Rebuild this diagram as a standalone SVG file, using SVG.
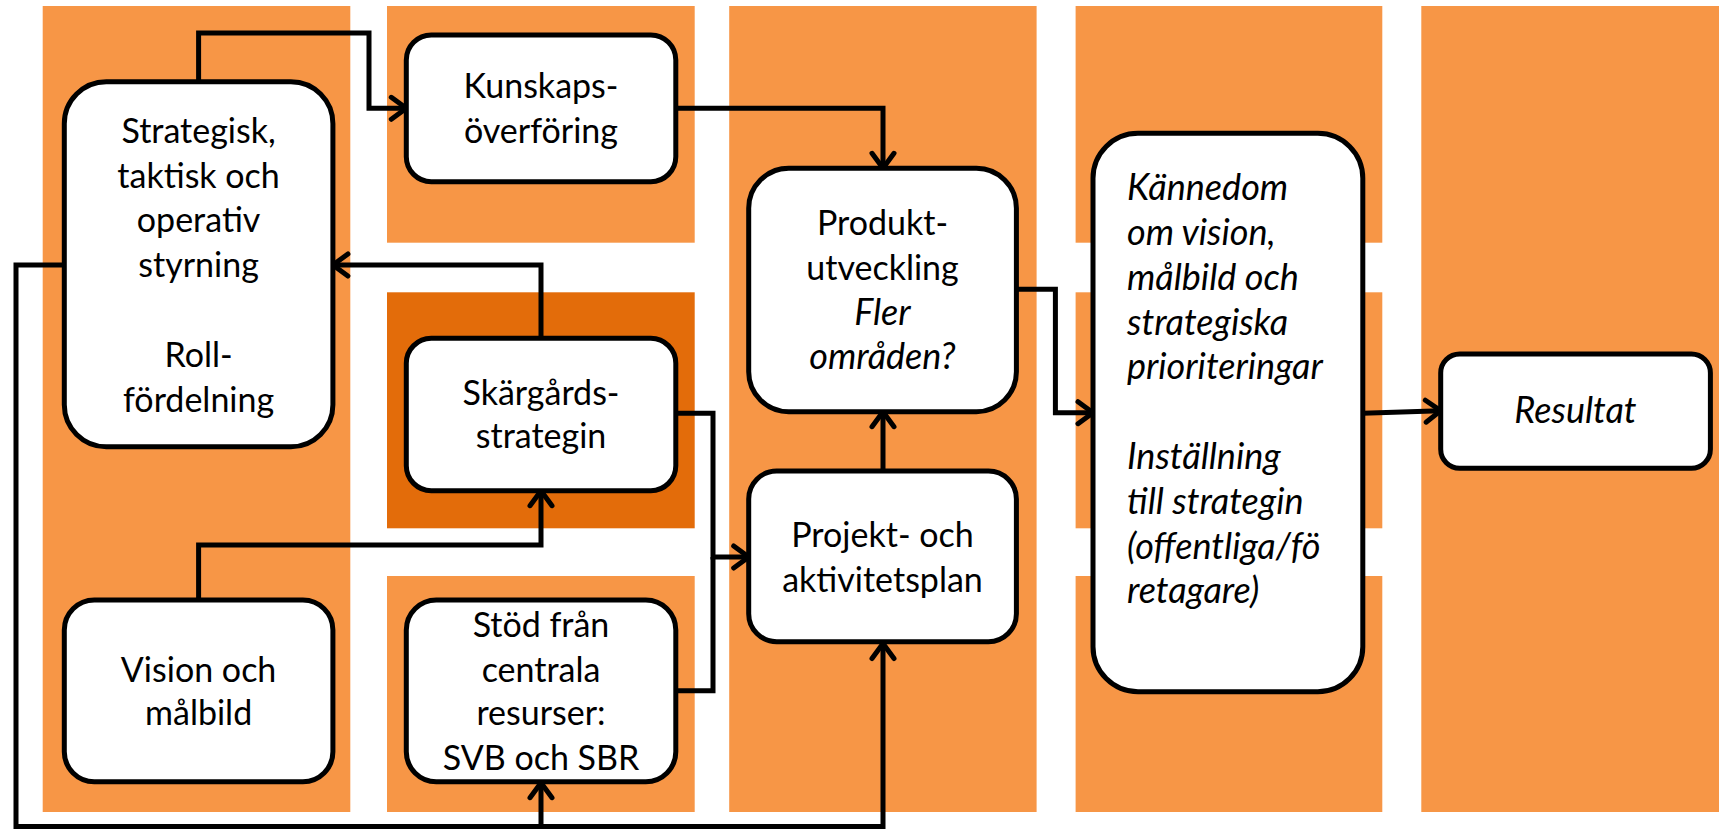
<svg xmlns="http://www.w3.org/2000/svg" width="1719" height="830" viewBox="0 0 1719 830">
<style>
.bg{fill:#F79646}
.bgd{fill:#E36C0A}
.box{fill:#fff;stroke:#000;stroke-width:5}
.t{font-family:Lato,"Liberation Sans",sans-serif;font-size:34px;fill:#000;text-anchor:middle}
.i{font-style:italic;font-size:36px}
.l{text-anchor:start}
.c{fill:none;stroke:#000;stroke-width:5;stroke-linejoin:miter}
</style>
<defs>
<marker id="a" markerUnits="userSpaceOnUse" markerWidth="26" markerHeight="30" viewBox="0 0 26 30" refX="21" refY="15" orient="auto">
<path d="M6,4 L21,15 L6,26" fill="none" stroke="#000" stroke-width="5" stroke-linecap="round" stroke-linejoin="miter"/>
</marker>
</defs>
<g id="backgrounds">
<rect class="bg" x="42.7" y="6" width="307.6" height="806"/>
<rect class="bg" x="387" y="6" width="307.7" height="236.7"/>
<rect class="bgd" x="387" y="292.3" width="307.7" height="236"/>
<rect class="bg" x="387" y="576" width="307.7" height="236"/>
<rect class="bg" x="729.2" y="6" width="307.4" height="806"/>
<rect class="bg" x="1075.6" y="6" width="306.7" height="236.7"/>
<rect class="bg" x="1075.6" y="292.3" width="306.7" height="236"/>
<rect class="bg" x="1075.6" y="576" width="306.7" height="236"/>
<rect class="bg" x="1421.3" y="6" width="297.7" height="806"/>
</g>
<g id="connectors">
<path class="c" d="M198.6,81.7 V33 H369 V108.3 H406.3" marker-end="url(#a)"/>
<path class="c" d="M675.8,108.3 H883 V168.3" marker-end="url(#a)"/>
<path class="c" d="M541,338.3 V265 H332.9" marker-end="url(#a)"/>
<path class="c" d="M198.6,600 V545 H541 V490.7" marker-end="url(#a)"/>
<path class="c" d="M675.8,413.3 H713 V557 H748.7" marker-end="url(#a)"/>
<path class="c" d="M675.8,690.7 H713 V557"/>
<path class="c" d="M64.3,265 H16 V826.5 H883 V643.5" marker-end="url(#a)"/>
<path class="c" d="M541,826.5 V782.7" marker-end="url(#a)"/>
<path class="c" d="M883,471 V411.7" marker-end="url(#a)"/>
<path class="c" d="M1016.4,289.3 H1055.4 V412.7 H1093" marker-end="url(#a)"/>
<path class="c" d="M1362.8,413.3 L1440.7,410.7" marker-end="url(#a)"/>
</g>
<g id="strategisk">
<rect class="box" x="64.3" y="81.7" width="268.6" height="365" rx="42" ry="42"/>
<text class="t" x="198.6" y="143.3">Strategisk,</text>
<text class="t" x="198.6" y="188.3">taktisk och</text>
<text class="t" x="198.6" y="231.7">operativ</text>
<text class="t" x="198.6" y="276.7">styrning</text>
<text class="t" x="198.6" y="366.7">Roll-</text>
<text class="t" x="198.6" y="411.7">fördelning</text>
</g>
<g id="kunskap">
<rect class="box" x="406.3" y="35" width="269.5" height="146.7" rx="25" ry="25"/>
<text class="t" x="541" y="98.3">Kunskaps-</text>
<text class="t" x="541" y="143.3">överföring</text>
</g>
<g id="skargard">
<rect class="box" x="406.3" y="338.3" width="269.5" height="152.4" rx="25" ry="25"/>
<text class="t" x="541" y="405">Skärgårds-</text>
<text class="t" x="541" y="448.3">strategin</text>
</g>
<g id="vision">
<rect class="box" x="64.3" y="600" width="268.6" height="181.7" rx="30" ry="30"/>
<text class="t" x="198.6" y="681.7">Vision och</text>
<text class="t" x="198.6" y="725">målbild</text>
</g>
<g id="stod">
<rect class="box" x="406.3" y="600" width="269.5" height="181.7" rx="30" ry="30"/>
<text class="t" x="541" y="636.7">Stöd från</text>
<text class="t" x="541" y="681.7">centrala</text>
<text class="t" x="541" y="725">resurser:</text>
<text class="t" x="541" y="770">SVB och SBR</text>
</g>
<g id="produkt">
<rect class="box" x="748.7" y="168.3" width="267.7" height="243.4" rx="40" ry="40"/>
<text class="t" x="882.5" y="235">Produkt-</text>
<text class="t" x="882.5" y="280">utveckling</text>
<text class="t i" x="882.5" y="325">Fler</text>
<text class="t i" x="882.5" y="369.3">områden?</text>
</g>
<g id="projekt">
<rect class="box" x="748.7" y="471" width="267.7" height="170.7" rx="28" ry="28"/>
<text class="t" x="882.5" y="546.7">Projekt- och</text>
<text class="t" x="882.5" y="591.7">aktivitetsplan</text>
</g>
<g id="kannedom">
<rect class="box" x="1093" y="133.3" width="269.8" height="558.4" rx="45" ry="45"/>
<text class="t i l" x="1127" y="200">Kännedom</text>
<text class="t i l" x="1127" y="245">om vision,</text>
<text class="t i l" x="1127" y="290">målbild och</text>
<text class="t i l" x="1127" y="335">strategiska</text>
<text class="t i l" x="1127" y="379.3">prioriteringar</text>
<text class="t i l" x="1127" y="469.3">Inställning</text>
<text class="t i l" x="1127" y="514.3">till strategin</text>
<text class="t i l" x="1127" y="559.3">(offentliga/fö</text>
<text class="t i l" x="1127" y="603.3">retagare)</text>
</g>
<g id="resultat">
<rect class="box" x="1440.7" y="354" width="269.7" height="114.3" rx="19" ry="19"/>
<text class="t i" x="1575.5" y="423.3">Resultat</text>
</g>
</svg>
